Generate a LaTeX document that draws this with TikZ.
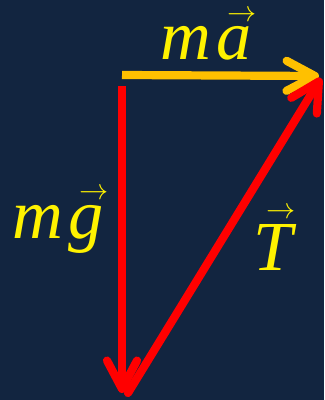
\documentclass[tikz,border=0pt]{standalone}
\usepackage{amsmath}
\usepackage{fontspec}
\setmainfont{Liberation Serif}
\usetikzlibrary{arrows.meta}
\definecolor{navy}{RGB}{18,37,64}
\definecolor{gold}{RGB}{255,192,0}
\newcommand\vc[1]{\overset{\mkern10mu\scriptscriptstyle\rightarrow}{\mbox{\itshape #1}}}
\tikzset{
  vec/.style={line width=7pt, -{Straight Barb[length=8.5mm,width=9mm,round]}, line cap=round},
  lbl/.style={text=yellow, inner sep=0pt, anchor=base west, font=\fontsize{60}{64}\selectfont\itshape}
}
\begin{document}
\begin{tikzpicture}[x=0.03cm,y=-0.03cm]
\fill[navy] (0,0) rectangle (324,400);
\useasboundingbox (0,0) rectangle (324,400);

\coordinate (a0) at (122,75);
\coordinate (a1) at (319,76);
\coordinate (g0) at (122,86);
\coordinate (g1) at (122,393);
\coordinate (t0) at (128,393);
\coordinate (t1) at (321,78);

\draw[vec, gold, line cap=butt] (a0) -- (a1);
\draw[vec, red, line cap=butt] (g0) -- (g1);
\draw[vec, red] (t0) -- (t1);

\node[lbl] (ma) at (160,60) {m$\vc{a}$};
\node[lbl] (mg) at (12,238) {m$\vc{g}$};
\node[lbl] (T) at (250,270) {$\vc{T}$};
\end{tikzpicture}
\end{document}
